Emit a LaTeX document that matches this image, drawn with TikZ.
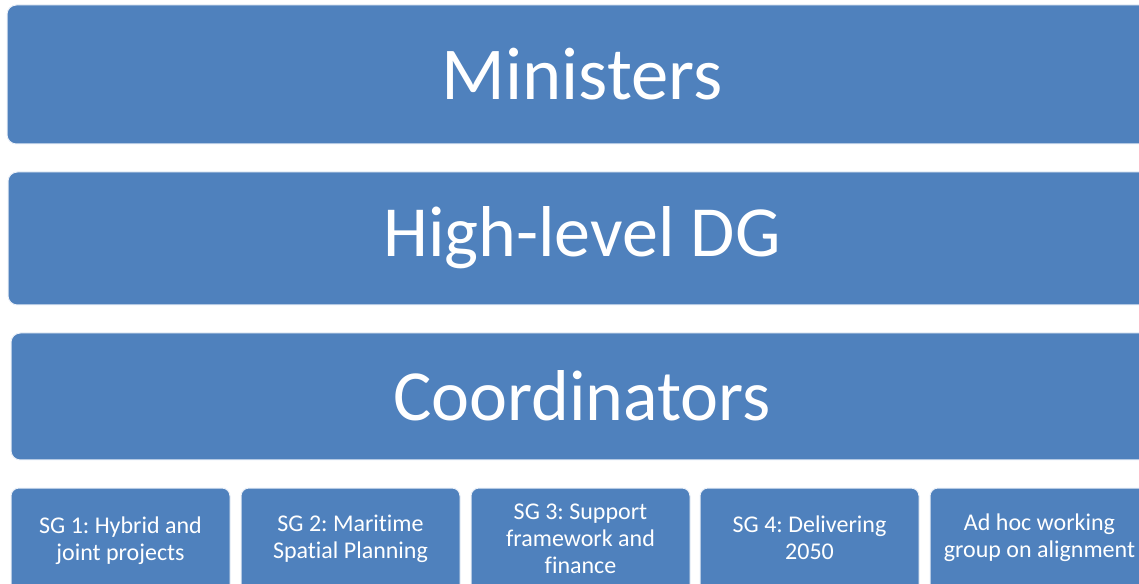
\documentclass[tikz,border=0pt]{standalone}
\usepackage{fontspec}
\setmainfont{Carlito}[Ligatures=NoCommon]
\frenchspacing
\tikzset{every picture/.style={line width=0.75pt}}
\tikzset{
  tier/.style={draw={rgb, 255:red, 235; green, 240; blue, 248 }, fill={rgb, 255:red, 79; green, 129; blue, 189 }, rounded corners=7pt, line width=0.75pt},
  group/.style={draw={rgb, 255:red, 235; green, 240; blue, 248 }, fill={rgb, 255:red, 79; green, 129; blue, 189 }, rounded corners=6pt, line width=0.75pt},
  tiertext/.style={inner sep=0.75pt, text={rgb, 255:red, 255; green, 255; blue, 255 }, font=\fontsize{54}{60}\selectfont},
  grouptext/.style={inner sep=0.75pt, align=center, text={rgb, 255:red, 255; green, 255; blue, 255 }, font=\fontsize{18}{20.3}\selectfont}
}

\begin{document}
\begin{tikzpicture}[x=0.75pt,y=0.75pt,yscale=-1,xscale=1]
\useasboundingbox (0,0) rectangle (1139,584);
\clip (0,0) rectangle (1139,584);

%Rounded Rect [id:ministers]
\draw [tier] (7,5) rectangle (1157,144) ;
%Rounded Rect [id:highlevel]
\draw [tier] (8,172) rectangle (1157,305) ;
%Rounded Rect [id:coordinators]
\draw [tier] (11,333) rectangle (1157,460) ;

%Rounded Rect [id:sg1]
\draw [group] (11,488) rectangle (230,594) ;
%Rounded Rect [id:sg2]
\draw [group] (241,488) rectangle (460,594) ;
%Rounded Rect [id:sg3]
\draw [group] (471,488) rectangle (690,594) ;
%Rounded Rect [id:sg4]
\draw [group] (700,488) rectangle (919,594) ;
%Rounded Rect [id:adhoc]
\draw [group] (930,488) rectangle (1149,594) ;

% Text Node
\draw (582,74) node [tiertext, font=\fontsize{56}{60}\selectfont] (ministersText) {Ministers};
% Text Node
\draw (582,238) node [tiertext] (highlevelText) {High-level DG};
% Text Node
\draw (582,396) node [tiertext] (coordinatorsText) {Coordinators};

% Text Node
\draw (120.5,541) node [grouptext] (sgOneText) {SG 1: Hybrid and\\joint projects};
% Text Node
\draw (350.5,539) node [grouptext] (sgTwoText) {SG 2: Maritime\\Spatial Planning};
% Text Node
\draw (580.5,539) node [grouptext] (sgThreeText) {SG 3: Support\\framework and\\finance};
% Text Node
\draw (809.5,538) node [grouptext] (sgFourText) {SG 4: Delivering\\2050};
% Text Node
\draw (1039.5,538) node [grouptext] (adhocText) {Ad hoc working\\group on alignment};

\end{tikzpicture}
\end{document}
